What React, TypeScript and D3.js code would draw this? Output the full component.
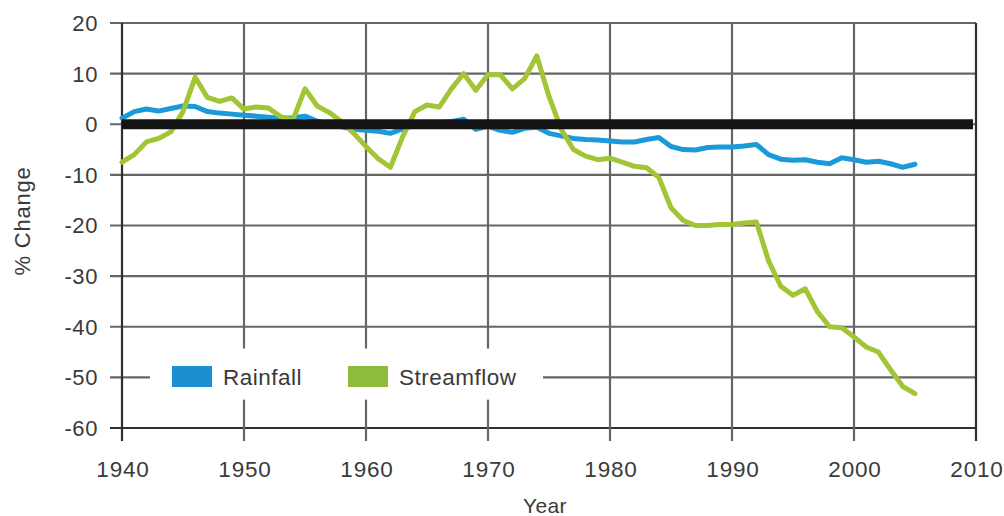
import React from 'react';
import * as d3 from 'd3';

const years = [
  1940, 1941, 1942, 1943, 1944, 1945, 1946, 1947, 1948, 1949,
  1950, 1951, 1952, 1953, 1954, 1955, 1956, 1957, 1958, 1959,
  1960, 1961, 1962, 1963, 1964, 1965, 1966, 1967, 1968, 1969,
  1970, 1971, 1972, 1973, 1974, 1975, 1976, 1977, 1978, 1979,
  1980, 1981, 1982, 1983, 1984, 1985, 1986, 1987, 1988, 1989,
  1990, 1991, 1992, 1993, 1994, 1995, 1996, 1997, 1998, 1999,
  2000, 2001, 2002, 2003, 2004, 2005,
];

const rainfall = [
  1.2, 2.5, 3.0, 2.6, 3.1, 3.6, 3.5, 2.5, 2.2, 2.0,
  1.8, 1.6, 1.4, 1.2, 1.3, 1.6, 0.6, 0.0, -0.5, -1.0,
  -1.2, -1.4, -1.8, -0.9, -0.2, 0.2, 0.3, 0.5, 1.0, -1.0,
  -0.4, -1.2, -1.6, -0.8, -0.6, -1.8, -2.3, -2.8, -3.0, -3.1,
  -3.3, -3.5, -3.5, -3.0, -2.6, -4.4, -5.0, -5.1, -4.6, -4.5,
  -4.5, -4.3, -4.0, -6.0, -6.9, -7.1, -7.0, -7.5, -7.8, -6.6,
  -7.0, -7.5, -7.3, -7.8, -8.5, -7.9,
];

const streamflow = [
  -7.5, -6.0, -3.5, -2.8, -1.5, 2.5, 9.3, 5.3, 4.5, 5.2,
  3.0, 3.4, 3.2, 1.5, 0.8, 7.0, 3.6, 2.3, 0.5, -1.8,
  -4.4, -6.8, -8.5, -2.5, 2.5, 3.8, 3.4, 7.0, 10.0, 6.7,
  9.8, 9.8, 7.0, 9.0, 13.5, 5.5, -1.0, -5.0, -6.3, -7.0,
  -6.7, -7.5, -8.3, -8.6, -10.5, -16.5, -19.0, -20.0, -20.0, -19.8,
  -19.8, -19.5, -19.3, -27.0, -32.0, -33.8, -32.5, -37.0, -40.0, -40.2,
  -42.0, -44.0, -45.0, -48.5, -51.8, -53.2,
];

const xTicks = [1940, 1950, 1960, 1970, 1980, 1990, 2000, 2010];
const yTicks = [20, 10, 0, -10, -20, -30, -40, -50, -60];

const seriesNames = ['Rainfall', 'Streamflow'];
const seriesColors = ['#1b9ad9', '#a2c536'];
const legendColors = ['#1c8fd0', '#8dbb3c'];

const W = 1004;
const H = 516;
const FONT = '"Liberation Sans", Arial, Helvetica, sans-serif';
const TEXT = '#3a3a3a';

export default function App() {
  const x = d3.scaleLinear().domain([1940, 2010]).range([122, 976]);
  const y = d3.scaleLinear().domain([-60, 20]).range([428, 23]);

  const line = d3
    .line<number>()
    .x((_, i) => x(years[i]))
    .y((d) => y(d))
    .curve(d3.curveLinear);

  const series = [rainfall, streamflow];

  const x0 = x(1940);
  const x1 = x(2010);
  const yTop = y(20);
  const yBot = y(-60);

  return (
    <svg
      width={W}
      height={H}
      style={{ position: 'absolute', left: 0, top: 0, background: '#fff' }}
      fontFamily={FONT}
    >
      <rect x={0} y={0} width={W} height={H} fill="#fff" />

      {/* horizontal gridlines */}
      {yTicks.map((t) => (
        <line
          key={'h' + t}
          x1={x0 - 12}
          x2={x1}
          y1={y(t)}
          y2={y(t)}
          stroke={t === -60 ? '#2e2e2e' : '#666'}
          strokeWidth={t === -60 ? 1.8 : 2.2}
        />
      ))}

      {/* vertical gridlines */}
      {xTicks.map((t) => (
        <line
          key={'v' + t}
          x1={x(t)}
          x2={x(t)}
          y1={yTop}
          y2={yBot + 13}
          stroke={t === 1940 || t === 2010 ? '#2e2e2e' : '#666'}
          strokeWidth={2.2}
        />
      ))}

      {/* legend background covering gridlines */}
      <rect x={150} y={y(-44.3)} width={393} height={y(-54.4) - y(-44.3)} fill="#fff" />

      {/* data lines */}
      {series.map((s, i) => (
        <path
          key={seriesNames[i]}
          d={line(s) || ''}
          fill="none"
          stroke={seriesColors[i]}
          strokeWidth={5}
          strokeLinejoin="round"
          strokeLinecap="round"
        />
      ))}

      {/* zero reference line */}
      <line x1={x0} x2={x1 - 3} y1={y(0)} y2={y(0)} stroke="#141414" strokeWidth={10} />

      {/* y tick labels */}
      {yTicks.map((t) => (
        <text
          key={'yl' + t}
          x={98}
          y={y(t)}
          dy="0.36em"
          textAnchor="end"
          fontSize={22}
          letterSpacing={0.6}
          fill={TEXT}
        >
          {t}
        </text>
      ))}

      {/* x tick labels */}
      {xTicks.map((t) => (
        <text
          key={'xl' + t}
          x={x(t) + 1}
          y={477}
          textAnchor="middle"
          fontSize={22.5}
          letterSpacing={0.8}
          fill={TEXT}
        >
          {t}
        </text>
      ))}

      {/* axis titles */}
      <text
        x={545}
        y={513}
        textAnchor="middle"
        fontSize={21}
        letterSpacing={0.4}
        fill={TEXT}
      >
        Year
      </text>
      <text
        transform={`translate(30,${221}) rotate(-90)`}
        textAnchor="middle"
        fontSize={22}
        letterSpacing={0.8}
        fill={TEXT}
      >
        % Change
      </text>

      {/* legend */}
      {seriesNames.map((name, i) => {
        const lx = i === 0 ? 172 : 348;
        return (
          <g key={'lg' + name}>
            <rect x={lx} y={366} width={40} height={21} fill={legendColors[i]} />
            <text x={lx + 51} y={385} fontSize={22.5} letterSpacing={0.5} fill={TEXT}>
              {name}
            </text>
          </g>
        );
      })}
    </svg>
  );
}
